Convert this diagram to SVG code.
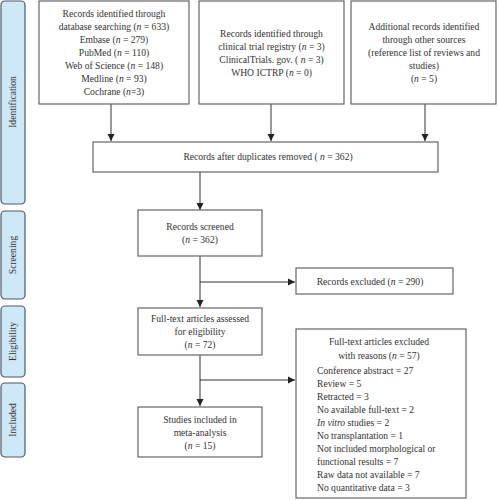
<svg xmlns="http://www.w3.org/2000/svg" width="498" height="500" viewBox="0 0 498 500">
<defs>
<marker id="ah" markerWidth="8" markerHeight="8" refX="7" refY="4" orient="auto" markerUnits="userSpaceOnUse">
<path d="M0,0.5 L7,4 L0,7.5 Z" fill="#222"/>
</marker>
<style>
.box{fill:#fff;stroke:#666;stroke-width:1.2}
.side{fill:#cfe8f8;stroke:#4e5b66;stroke-width:1.2}
text{font-family:"Liberation Serif","Times New Roman",serif;font-size:9.6px;fill:#333}
.c{text-anchor:middle}
.sl{text-anchor:middle;font-size:9.6px}
.ln{stroke:#333;stroke-width:1;fill:none}
</style>
</defs>
<rect width="498" height="500" fill="#fff"/>
<g id="side-identification"><rect class="side" x="1" y="1" width="24" height="203" rx="4"/><text class="sl" transform="translate(16,102) rotate(-90)">Identification</text></g>
<g id="side-screening"><rect class="side" x="1" y="211" width="24" height="88" rx="4"/><text class="sl" transform="translate(16,255) rotate(-90)">Screening</text></g>
<g id="side-eligibility"><rect class="side" x="1" y="306" width="24" height="71" rx="4"/><text class="sl" transform="translate(16,341.5) rotate(-90)">Eligibility</text></g>
<g id="side-included"><rect class="side" x="1" y="383" width="24" height="74" rx="4"/><text class="sl" transform="translate(16,420) rotate(-90)">Included</text></g>

<g id="connectors">
<line class="ln" x1="111" y1="104" x2="111" y2="141" marker-end="url(#ah)"/>
<line class="ln" x1="271" y1="104" x2="271" y2="141" marker-end="url(#ah)"/>
<line class="ln" x1="425" y1="104" x2="425" y2="141" marker-end="url(#ah)"/>
<line class="ln" x1="200" y1="172" x2="200" y2="210" marker-end="url(#ah)"/>
<line class="ln" x1="200" y1="256" x2="200" y2="307" marker-end="url(#ah)"/>
<line class="ln" x1="200" y1="282" x2="295" y2="282" marker-end="url(#ah)"/>
<line class="ln" x1="200" y1="355" x2="200" y2="406" marker-end="url(#ah)"/>
<line class="ln" x1="200" y1="380" x2="295" y2="380" marker-end="url(#ah)"/>
</g>

<g id="db">
<rect class="box" x="39" y="1" width="150" height="103"/>
<text class="c" x="114" y="17">Records identified through</text>
<text class="c" x="114" y="30">database searching (<tspan font-style="italic">n</tspan> = 633)</text>
<text class="c" x="114" y="43">Embase (<tspan font-style="italic">n</tspan> = 279)</text>
<text class="c" x="114" y="56">PubMed (<tspan font-style="italic">n</tspan> = 110)</text>
<text class="c" x="114" y="69">Web of Science (<tspan font-style="italic">n</tspan> = 148)</text>
<text class="c" x="114" y="82">Medline (<tspan font-style="italic">n</tspan> = 93)</text>
<text class="c" x="114" y="95">Cochrane (<tspan font-style="italic">n</tspan>=3)</text>
</g>
<g id="registry">
<rect class="box" x="199" y="1" width="145" height="103"/>
<text class="c" x="271.5" y="37">Records identified through</text>
<text class="c" x="271.5" y="50">clinical trial registry (<tspan font-style="italic">n</tspan> = 3)</text>
<text class="c" x="271.5" y="63">ClinicalTrials. gov. ( <tspan font-style="italic">n</tspan> = 3)</text>
<text class="c" x="271.5" y="76">WHO ICTRP (<tspan font-style="italic">n</tspan> = 0)</text>
</g>
<g id="other">
<rect class="box" x="351" y="1" width="145" height="103"/>
<text class="c" x="424" y="30">Additional records identified</text>
<text class="c" x="424" y="43">through other sources</text>
<text class="c" x="424" y="56">(reference list of reviews and</text>
<text class="c" x="424" y="69">studies)</text>
<text class="c" x="424" y="82">(<tspan font-style="italic">n</tspan> = 5)</text>
</g>
<g id="dedup">
<rect class="box" x="93" y="142" width="345" height="30"/>
<text class="c" x="268" y="160">Records after duplicates removed ( <tspan font-style="italic">n</tspan> = 362)</text>
</g>
<g id="screened">
<rect class="box" x="138" y="210" width="124" height="46"/>
<text class="c" x="200" y="230">Records screened</text>
<text class="c" x="200" y="243">(<tspan font-style="italic">n</tspan> = 362)</text>
</g>
<g id="excluded1">
<rect class="box" x="296" y="268" width="157" height="26"/>
<text class="c" x="370" y="285">Records excluded (<tspan font-style="italic">n</tspan> = 290)</text>
</g>
<g id="fulltext">
<rect class="box" x="138" y="308" width="124" height="47"/>
<text class="c" x="200" y="322">Full-text articles assessed</text>
<text class="c" x="200" y="335">for eligibility</text>
<text class="c" x="200" y="348">(<tspan font-style="italic">n</tspan> = 72)</text>
</g>
<g id="excluded2">
<rect class="box" x="296" y="329" width="170" height="169"/>
<text class="c" x="379" y="345">Full-text articles excluded</text>
<text class="c" x="379" y="359">with reasons (<tspan font-style="italic">n</tspan> = 57)</text>
<text x="317" y="374">Conference abstract = 27</text>
<text x="317" y="387">Review = 5</text>
<text x="317" y="400">Retracted = 3</text>
<text x="317" y="413">No available full-text = 2</text>
<text x="317" y="426"><tspan font-style="italic">In vitro</tspan> studies = 2</text>
<text x="317" y="439">No transplantation = 1</text>
<text x="317" y="452">Not included morphological or</text>
<text x="317" y="465">functional results = 7</text>
<text x="317" y="478">Raw data not available = 7</text>
<text x="317" y="491">No quantitative data = 3</text>
</g>
<g id="included">
<rect class="box" x="138" y="407" width="124" height="50"/>
<text class="c" x="200" y="423">Studies included in</text>
<text class="c" x="200" y="436">meta-analysis</text>
<text class="c" x="200" y="449">(<tspan font-style="italic">n</tspan> = 15)</text>
</g>
</svg>
